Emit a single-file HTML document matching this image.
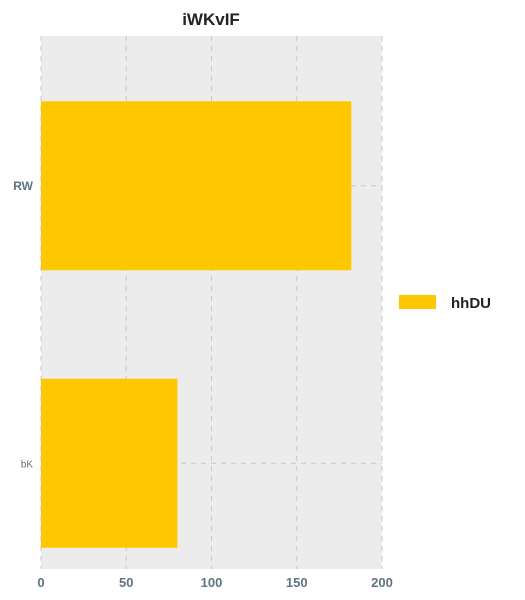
<!DOCTYPE html>
<html><head><meta charset="utf-8"><style>
body{margin:0;background:#fff;width:525px;height:600px;overflow:hidden}
svg{display:block}
text{font-family:"Liberation Sans",sans-serif}
</style></head><body>
<svg id="c" width="525" height="600">
<text x="211" y="25" text-anchor="middle" font-size="17" font-weight="bold" fill="#222">iWKvIF</text>
<rect x="41" y="36" width="341" height="533" fill="#ececec"/>
<g id="grid"></g><g id="bars"></g><g id="xt"></g><g id="yt"></g>
<rect x="399" y="295" width="37" height="14" fill="#ffc700"/>
<text x="451" y="308" font-size="15" font-weight="bold" fill="#222">hhDU</text>
</svg>
<script>
const categories=["RW","bK"];
const values=[182,80];
const ticks=[0,50,100,150,200];
const ns="http://www.w3.org/2000/svg";
const x0=41,x1=382,y0=36,y1=569;
const xs=v=>x0+(v-0)/(200-0)*(x1-x0);
const bandStart=47,band=277.5;
const yc=i=>bandStart+band*(i+0.5);
function mk(t,a,p){const e=document.createElementNS(ns,t);for(const k in a)e.setAttribute(k,a[k]);document.getElementById(p).appendChild(e);return e;}
ticks.forEach(t=>{
 const l=mk("line",{x1:xs(t),x2:xs(t),y1:y0,y2:y1,stroke:"#c8c8c8","stroke-dasharray":"5,5"},"grid");
 
 
 const tx=mk("text",{x:xs(t),y:587,"text-anchor":"middle","font-size":"13","font-weight":"bold",fill:"#5f7480"},"xt");
 tx.textContent=t;
 
 
});
categories.forEach((c,i)=>{
 const g=mk("line",{x1:x0,x2:x1,y1:yc(i),y2:yc(i),stroke:"#c8c8c8","stroke-dasharray":"5,5"},"grid");
 
 
 const h=169;
 const b=mk("rect",{x:x0,y:yc(i)-h/2,width:xs(values[i])-x0,height:h,fill:"#ffc700"},"bars");
 
 
 const t=mk("text",{x:33,y:yc(i)+4,"text-anchor":"end","font-size":i==0?"12":"10","font-weight":i==0?"bold":"normal",fill:"#5f7480"},"yt");
 t.textContent=c;
 
 
});
</script>
</body></html>
